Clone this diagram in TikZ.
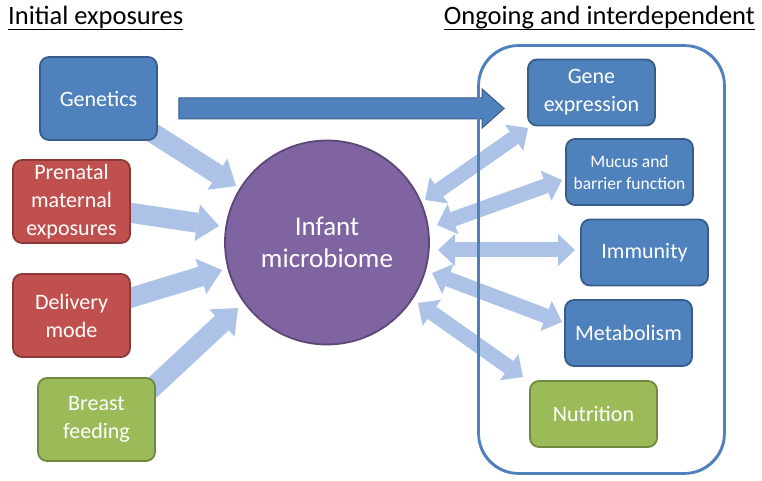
\documentclass[tikz,border=0pt]{standalone}
\usepackage{fontspec}
\setmainfont{Carlito}
\usetikzlibrary{arrows.meta,calc}
\definecolor{bfill}{RGB}{79,129,189}
\definecolor{bdraw}{RGB}{56,93,138}
\definecolor{rfill}{RGB}{192,80,77}
\definecolor{rdraw}{RGB}{140,56,54}
\definecolor{gfill}{RGB}{155,187,89}
\definecolor{gdraw}{RGB}{113,137,63}
\definecolor{pfill}{RGB}{128,100,162}
\definecolor{pdraw}{RGB}{92,71,118}
\definecolor{lblue}{RGB}{172,194,230}
\definecolor{contc}{RGB}{79,129,189}
\pgfdeclarelayer{bglayer}
\pgfdeclarelayer{midlayer}
\pgfsetlayers{bglayer,midlayer,main}
\begin{document}
\begin{tikzpicture}[x=1pt,y=1pt,
  box/.style={rounded corners=9pt, line width=1.8pt, text=white, align=center,
    inner sep=0pt, font=\fontsize{22}{28}\selectfont},
  lbox/.style={box, minimum width=117pt, minimum height=83pt},
  rbox/.style={box, minimum width=127pt, minimum height=66pt},
  bluebox/.style={fill=bfill, draw=bdraw},
  redbox/.style={fill=rfill, draw=rdraw},
  greenbox/.style={fill=gfill, draw=gdraw},
  title/.style={inner sep=0pt, font=\fontsize{26.5}{30}\selectfont},
  uline/.style={line width=1.6pt},
  inarrow/.style={draw=lblue, line width=20pt,
    -{Triangle[width=37pt,length=22pt,line width=0pt]}},
  twoarrow/.style={draw=lblue, line width=15pt,
    {Triangle[width=32pt,length=17pt,line width=0pt]}-{Triangle[width=32pt,length=17pt,line width=0pt]}},
  bigarrow/.style={fill=bfill, draw=bdraw, line width=1pt},
  container/.style={draw=contc, line width=1.8pt, rounded corners=40pt, minimum width=245pt, minimum height=427pt, inner sep=0pt}
]
\useasboundingbox (0,0) rectangle (762,481);

% titles
\node[title, anchor=base west] (t1) at (8,456) {Initial exposures};
\node[title, anchor=base east] (t2) at (755,456) {Ongoing and interdependent};
\draw[uline] ([yshift=-4.5pt]t1.base west) -- ([yshift=-4.5pt]t1.base east);
\draw[uline] ([yshift=-4.5pt]t2.base west) -- ([yshift=-4.5pt]t2.base east);

% centre circle
\begin{pgfonlayer}{bglayer}
\node[circle, fill=pfill, draw=pdraw, line width=1.8pt, minimum size=204pt, inner sep=0pt,
  text=white, align=center, font=\fontsize{27}{32}\selectfont] (mic) at (327,238.5) {Infant\\microbiome};
\end{pgfonlayer}

% left boxes
\node[lbox, bluebox] (gen) at (98.5,382.5) {Genetics};
\node[lbox, redbox] (pre) at (71.5,279.5) {Prenatal\\maternal\\exposures};
\node[lbox, redbox] (del) at (71.5,165.5) {Delivery\\mode};
\node[lbox, greenbox] (bf) at (96.5,61.5) {Breast\\feeding};

% right boxes
\node[container] (box) at (601.5,221.5) {};
\node[rbox, bluebox] (ge) at (591.5,388.5) {Gene\\expression};
\node[rbox, bluebox, font=\fontsize{17.5}{22}\selectfont] (mu) at (629.5,309) {Mucus and\\barrier function};
\node[rbox, bluebox] (im) at (644.5,228.5) {Immunity};
\node[rbox, bluebox] (me) at (628.5,148) {Metabolism};
\node[rbox, greenbox] (nu) at (593.5,67) {Nutrition};

\begin{pgfonlayer}{midlayer}
% incoming arrows
\draw[inarrow] ([shift={(46.5,-29.5)}]gen.center) -- ([shift={(-91,56.5)}]mic.center);
\draw[inarrow] ([shift={(53.5,-10.5)}]pre.center) -- ([shift={(-108,16.5)}]mic.center);
\draw[inarrow] ([shift={(53.5,16)}]del.center) -- ([shift={(-105,-27.5)}]mic.center);
\draw[inarrow] ([shift={(53.5,29.5)}]bf.center) -- ([shift={(-89,-65.5)}]mic.center);
% two-way arrows
\draw[twoarrow] ([shift={(98,42.5)}]mic.center) -- ([shift={(-63.5,-35.5)}]ge.center);
\draw[twoarrow] ([shift={(110,17.5)}]mic.center) -- ([shift={(-67.5,-8)}]mu.center);
\draw[twoarrow] ([shift={(111,-7.5)}]mic.center) -- ([shift={(-69.5,2.5)}]im.center);
\draw[twoarrow] ([shift={(105,-30.5)}]mic.center) -- ([shift={(-66.5,11)}]me.center);
\draw[twoarrow] ([shift={(91,-60.5)}]mic.center) -- ([shift={(-70.5,37)}]nu.center);
% big arrow genetics -> gene expression
\draw[bigarrow] let \p1=(gen.east), \p2=(ge.west) in
  (\x1+21,\y1+0.5) -- (\x2-45,\y1+0.5) -- (\x2-45,\y1+9.5) -- (\x2-23,\y1-10)
  -- (\x2-45,\y1-29.5) -- (\x2-45,\y1-20.5) -- (\x1+21,\y1-20.5) -- cycle;
% container border over the arrows
\draw[draw=contc, line width=1.8pt, rounded corners=40pt] (box.south west) rectangle (box.north east);
\end{pgfonlayer}
\end{tikzpicture}
\end{document}
